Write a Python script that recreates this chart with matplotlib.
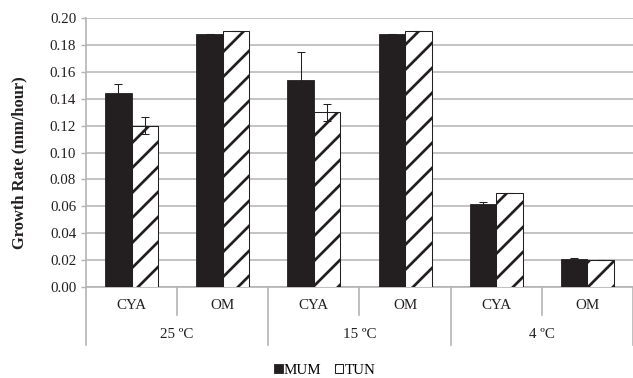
import matplotlib
matplotlib.use("Agg")
import matplotlib.pyplot as plt
import numpy as np

# Growth rate of two isolates on two media at three temperatures
temperatures = ["25 ºC", "15 ºC", "4 ºC"]
media = ["CYA", "OM"]
mum_rate = [0.1445, 0.188, 0.1537, 0.188, 0.0616, 0.0206]
mum_err = [0.0065, 0.0, 0.021, 0.0, 0.0013, 0.001]
tun_rate = [0.120, 0.190, 0.130, 0.190, 0.070, 0.020]
tun_err = [0.0064, 0.0, 0.0063, 0.0, 0.0, 0.0]
y_ticks = [0.00, 0.02, 0.04, 0.06, 0.08, 0.10, 0.12, 0.14, 0.16, 0.18, 0.20]

DPI = 150
plt.rcParams["font.family"] = ["Liberation Serif", "DejaVu Serif"]
plt.rcParams["hatch.linewidth"] = 1.3
plt.rcParams["hatch.color"] = "#1a1a1a"

fig = plt.figure(figsize=(633 / DPI, 378 / DPI), dpi=DPI)
ax = fig.add_axes([86 / 633, 91 / 378, 1 - 86 / 633, 269 / 378])

grid_col = "#b4b4b4"
n = len(mum_rate)
x = np.arange(n)
w = 0.29

ax.bar(x - w / 2, mum_rate, w, color="#231f20", edgecolor="#231f20",
       linewidth=0.4, label="MUM", zorder=3)
ax.bar(x + w / 2, tun_rate, w, color="white", edgecolor="#231f20",
       hatch="//", linewidth=0.5, label="TUN", zorder=3)

err_kw = dict(fmt="none", ecolor="#231f20", elinewidth=0.5, capsize=1.9,
              capthick=0.5, zorder=4)
ax.errorbar(x - w / 2, mum_rate, yerr=mum_err, **err_kw)
ax.errorbar(x + w / 2, tun_rate, yerr=tun_err, **err_kw)

ax.set_xlim(-0.5, n - 0.5)
ax.set_ylim(0, 0.20)
ax.set_yticks(y_ticks)
ax.set_yticklabels([f"{v:.2f}" for v in y_ticks], fontsize=7.2, color="#231f20")
ax.yaxis.grid(True, color=grid_col, linewidth=0.75, zorder=0)
ax.set_axisbelow(True)
ax.tick_params(axis="y", length=2.2, width=0.7, color=grid_col, pad=2.5)
ax.set_xticks([])

for side in ("top", "right"):
    ax.spines[side].set_visible(False)
for side in ("left", "bottom"):
    ax.spines[side].set_color(grid_col)
    ax.spines[side].set_linewidth(0.8)

ax.set_ylabel("Growth Rate (mm/hour)", fontsize=7.9, fontweight="bold",
              color="#231f20")
ax.yaxis.set_label_coords(-59 / 547, (287 - 163) / 269)

# Two-level category axis below the plot
trans = ax.get_xaxis_transform()
inner_bottom = -0.104
outer_bottom = -0.216
for i in range(n + 1):
    b = i - 0.5
    y_end = outer_bottom if i % 2 == 0 else inner_bottom
    ax.plot([b, b], [0, y_end], transform=trans, color=grid_col,
            linewidth=0.8, clip_on=False)
for i in range(n):
    ax.text(x[i], -0.0706, media[i % 2], transform=trans, ha="center",
            va="center", fontsize=7.2, color="#231f20")
for g, label in enumerate(temperatures):
    ax.text(2 * g + 0.5, -0.178, label, transform=trans, ha="center",
            va="center", fontsize=7.2, color="#231f20")

fig.legend(loc="center", bbox_to_anchor=(325 / 633, 1 - 370 / 378), ncol=2,
           frameon=False, fontsize=7.2, handlelength=0.55, handleheight=0.55,
           handletextpad=0.1, columnspacing=0.9, borderpad=0)

fig.savefig("out.png", dpi=DPI)
